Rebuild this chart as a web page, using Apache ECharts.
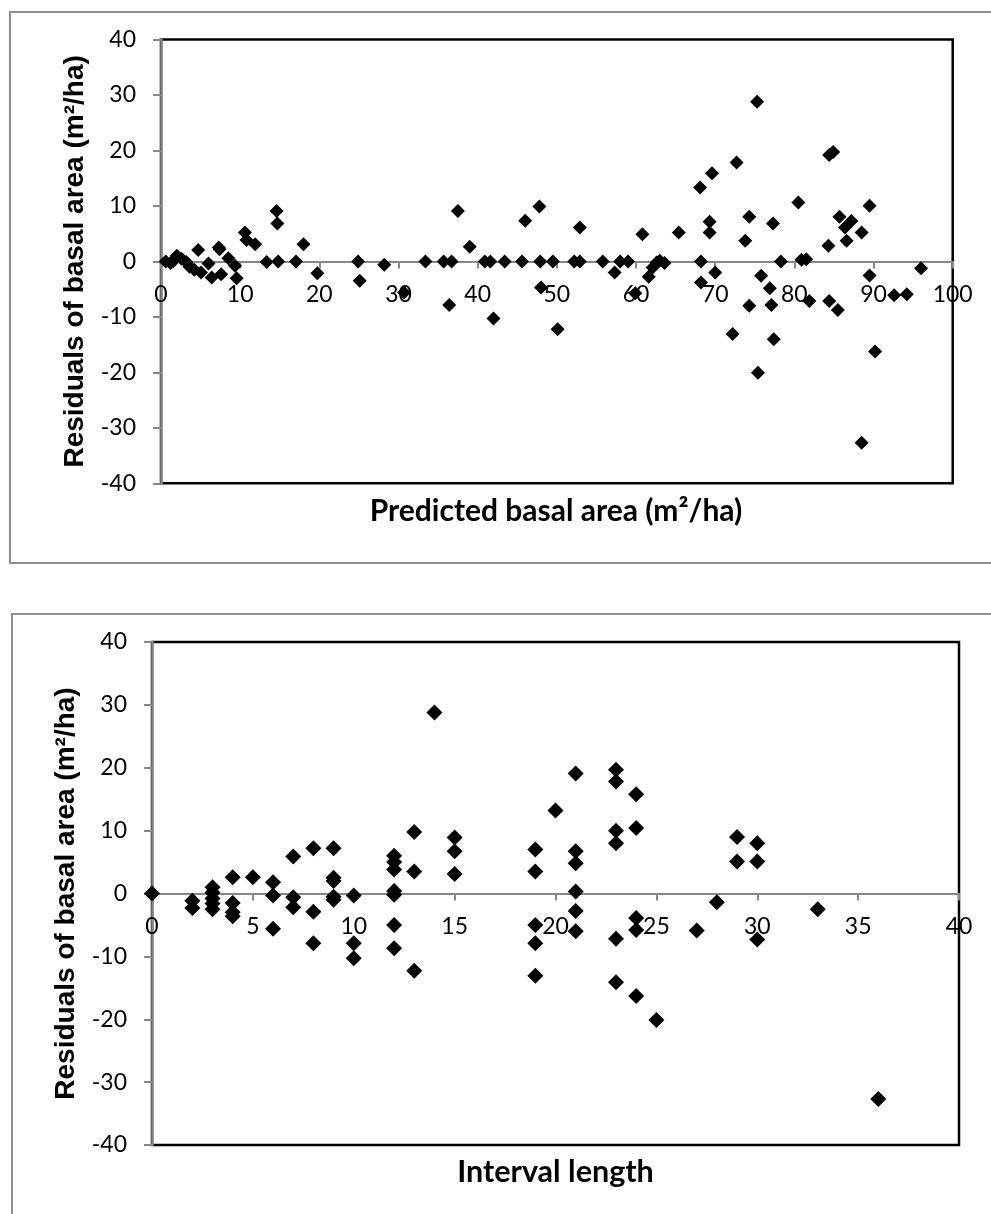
<!DOCTYPE html>
<html>
<head>
<meta charset="utf-8">
<script src="https://cdn.jsdelivr.net/npm/echarts@6/dist/echarts.min.js"></script>
<style>
  html, body { margin: 0; padding: 0; background: #fff; }
  #chart { width: 991px; height: 1214px; }
</style>
</head>
<body>
<div id="chart"></div>
<script>
// Residuals of basal area against predicted basal area (upper panel)
const predictedBasalArea = [
  0.6, 1.2, 1.5, 2.0, 2.6, 3.2, 3.6, 4.2, 4.7, 5.05, 6.0, 6.4, 7.3, 7.4, 7.6, 8.5, 9.35, 9.55,
  10.6, 10.8, 11.9, 13.35, 14.6, 14.7, 14.8, 17.05, 18.0, 19.75, 24.9, 25.1, 28.2, 30.7,
  33.4, 35.7, 36.7, 36.4, 37.5, 39.0, 40.9, 41.6, 42.0, 43.4, 45.6, 46.0, 47.9, 47.8, 48.0,
  49.5, 50.1, 52.2, 52.9, 52.9, 55.8, 57.3, 58.0, 59.0, 59.9, 60.8, 61.6, 62.1, 62.6, 63.0,
  63.6, 65.4, 68.1, 68.2, 68.2, 69.3, 69.3, 69.6, 70.0, 72.2, 72.7, 73.8, 74.3, 74.3, 75.3,
  75.4, 75.8, 76.9, 77.1, 77.3, 77.4, 78.3, 80.5, 80.9, 81.5, 81.9, 84.3, 84.4, 84.4, 84.9,
  85.5, 85.7, 86.4, 86.6, 87.2, 88.5, 88.5, 89.5, 89.5, 90.2, 92.6, 94.2, 96.0
];
const residualsByPrediction = [
  0, -0.3, 0, 1.0, 0.5, -0.1, -0.95, -1.5, 2.05, -2.0, -0.4, -2.9, 2.5, 2.2, -2.3, 0.55, -0.8, -3.05,
  5.2, 3.85, 3.1, -0.1, 9.1, 6.85, 0, 0, 3.1, -2.15, 0, -3.5, -0.6, -5.6,
  0, 0, 0, -7.85, 9.1, 2.65, 0, 0, -10.3, 0, 0, 7.35, 0, 9.9, -4.7,
  0, -12.25, 0, 0, 6.1, 0, -2.0, 0, 0, -5.75, 4.9, -2.75, -1.1, -0.2, 0.1,
  -0.3, 5.2, 13.3, 0, -3.8, 7.15, 5.2, 15.9, -2.0, -13.1, 17.85, 3.7, 8.05, -8.0, 28.8,
  -20.05, -2.6, -4.85, -7.85, 6.85, -14.05, 0, 10.6, 0.3, 0.4, -7.15, 2.8, -7.15, 19.2, 19.7,
  -8.75, 8.05, 6.1, 3.7, 7.3, 5.2, -32.7, 10.05, -2.55, -16.25, -6.1, -5.9, -1.25
];

// Residuals of basal area against interval length (lower panel)
const intervalLength = [
  0,
  2, 2,
  3, 3, 3, 3, 3,
  4, 4, 4, 4,
  5,
  6, 6, 6,
  7, 7, 7,
  8, 8, 8,
  9, 9, 9, 9, 9,
  10, 10, 10,
  12, 12, 12, 12, 12, 12, 12,
  13, 13, 13,
  14,
  15, 15, 15,
  19, 19, 19, 19, 19,
  20,
  21, 21, 21, 21, 21, 21,
  23, 23, 23, 23, 23, 23,
  24, 24, 24, 24, 24,
  25, 27, 28,
  29, 29,
  30, 30, 30,
  33, 36
];
const residualsByInterval = [
  0,
  -1.14, -2.3,
  1.0, 0.15, -0.8, -1.6, -2.5,
  2.6, -1.5, -3.0, -3.6,
  2.6,
  1.8, -0.3, -5.6,
  5.9, -0.6, -2.2,
  7.2, -2.9, -7.9,
  7.2, 2.5, 2.0, -0.5, -1.0,
  -0.3, -7.9, -10.3,
  6.0, 5.0, 3.8, 0.4, -0.2, -5.0, -8.7,
  9.8, 3.5, -12.3,
  28.8,
  8.9, 6.7, 3.1,
  7.0, 3.5, -5.0, -7.9, -13.1,
  13.2,
  19.1, 6.7, 4.8, 0.3, -2.8, -6.0,
  19.7, 17.8, 10.0, 8.0, -7.2, -14.1,
  15.8, 10.4, -3.9, -5.8, -16.3,
  -20.1, -5.9, -1.4,
  9.0, 5.1,
  8.0, 5.1, -7.3,
  -2.5, -32.7
];

const residualTicks = { min: -40, max: 40, interval: 10 };
const predictedTicks = { min: 0, max: 100, interval: 10 };
const intervalTicks = { min: 0, max: 40, interval: 5 };

const yTitle = 'Residuals of basal area (m²/ha)';
const xTitleTop = 'Predicted basal area (m²/ha)';
const xTitleBottom = 'Interval length';

const AXIS_GREY = '#878787';
const FRAME_GREY = '#8e8e8e';
const tickFont = { fontFamily: 'Lato', fontSize: 23, color: '#000' };

const panels = [
  { left: 161, top: 39.5, width: 791.7, height: 443.8, marker: 14 },
  { left: 152, top: 642, width: 807, height: 503, marker: 16 }
];

// The horizontal axis runs through residual = 0, i.e. the middle of the symmetric residual range.
function xAxisFor(gridIndex, ticks) {
  const p = panels[gridIndex];
  const zeroShift = p.height * (residualTicks.min / (residualTicks.max - residualTicks.min));
  return {
    gridIndex, type: 'value', position: 'bottom',
    min: ticks.min, max: ticks.max, interval: ticks.interval,
    offset: zeroShift,
    axisLine: { show: true, onZero: false, lineStyle: { color: AXIS_GREY, width: 2 } },
    axisTick: { show: true, length: 7, lineStyle: { color: AXIS_GREY, width: 2 } },
    axisLabel: Object.assign({ margin: 22 }, tickFont),
    splitLine: { show: false }
  };
}
function yAxisFor(gridIndex) {
  return {
    gridIndex, type: 'value',
    min: residualTicks.min, max: residualTicks.max, interval: residualTicks.interval,
    axisLine: { show: true, onZero: false, lineStyle: { color: AXIS_GREY, width: 2.5 } },
    axisTick: { show: true, length: 8, lineStyle: { color: AXIS_GREY, width: 2 } },
    axisLabel: Object.assign({ margin: 25 }, tickFont),
    splitLine: { show: false },
    name: yTitle, nameLocation: 'middle', nameGap: 72,
    nameTextStyle: { fontFamily: 'Liberation Sans', fontWeight: 'bold', fontSize: 28, color: '#000' }
  };
}
function pairs(xs, ys) { return xs.map((x, i) => [x, ys[i]]); }

const chart = echarts.init(document.getElementById('chart'), null, { renderer: 'canvas' });
chart.setOption({
  animation: false,
  backgroundColor: '#fff',
  grid: panels.map(p => ({
    left: p.left, top: p.top, width: p.width, height: p.height,
    show: true, borderColor: '#000', borderWidth: 2.5, backgroundColor: 'transparent'
  })),
  xAxis: [xAxisFor(0, predictedTicks), xAxisFor(1, intervalTicks)],
  yAxis: [yAxisFor(0), yAxisFor(1)],
  series: [
    { type: 'scatter', xAxisIndex: 0, yAxisIndex: 0, symbol: 'diamond', symbolSize: panels[0].marker,
      itemStyle: { color: '#000', opacity: 1 }, data: pairs(predictedBasalArea, residualsByPrediction) },
    { type: 'scatter', xAxisIndex: 1, yAxisIndex: 1, symbol: 'diamond', symbolSize: panels[1].marker,
      itemStyle: { color: '#000', opacity: 1 }, data: pairs(intervalLength, residualsByInterval) }
  ],
  graphic: [
    { type: 'rect', z: -10, shape: { x: 10, y: 12, width: 1000, height: 551 },
      style: { fill: 'none', stroke: FRAME_GREY, lineWidth: 2 } },
    { type: 'rect', z: -10, shape: { x: 12, y: 614, width: 1000, height: 700 },
      style: { fill: 'none', stroke: FRAME_GREY, lineWidth: 2 } },
    { type: 'text', x: 556, y: 511,
      style: { text: xTitleTop, fontFamily: 'Lato', fontWeight: 'bold', fontSize: 30, fill: '#000', align: 'center', verticalAlign: 'middle' } },
    { type: 'text', x: 555.5, y: 1172,
      style: { text: xTitleBottom, fontFamily: 'Lato', fontWeight: 'bold', fontSize: 30.5, fill: '#000', align: 'center', verticalAlign: 'middle' } }
  ]
});
</script>
</body>
</html>
